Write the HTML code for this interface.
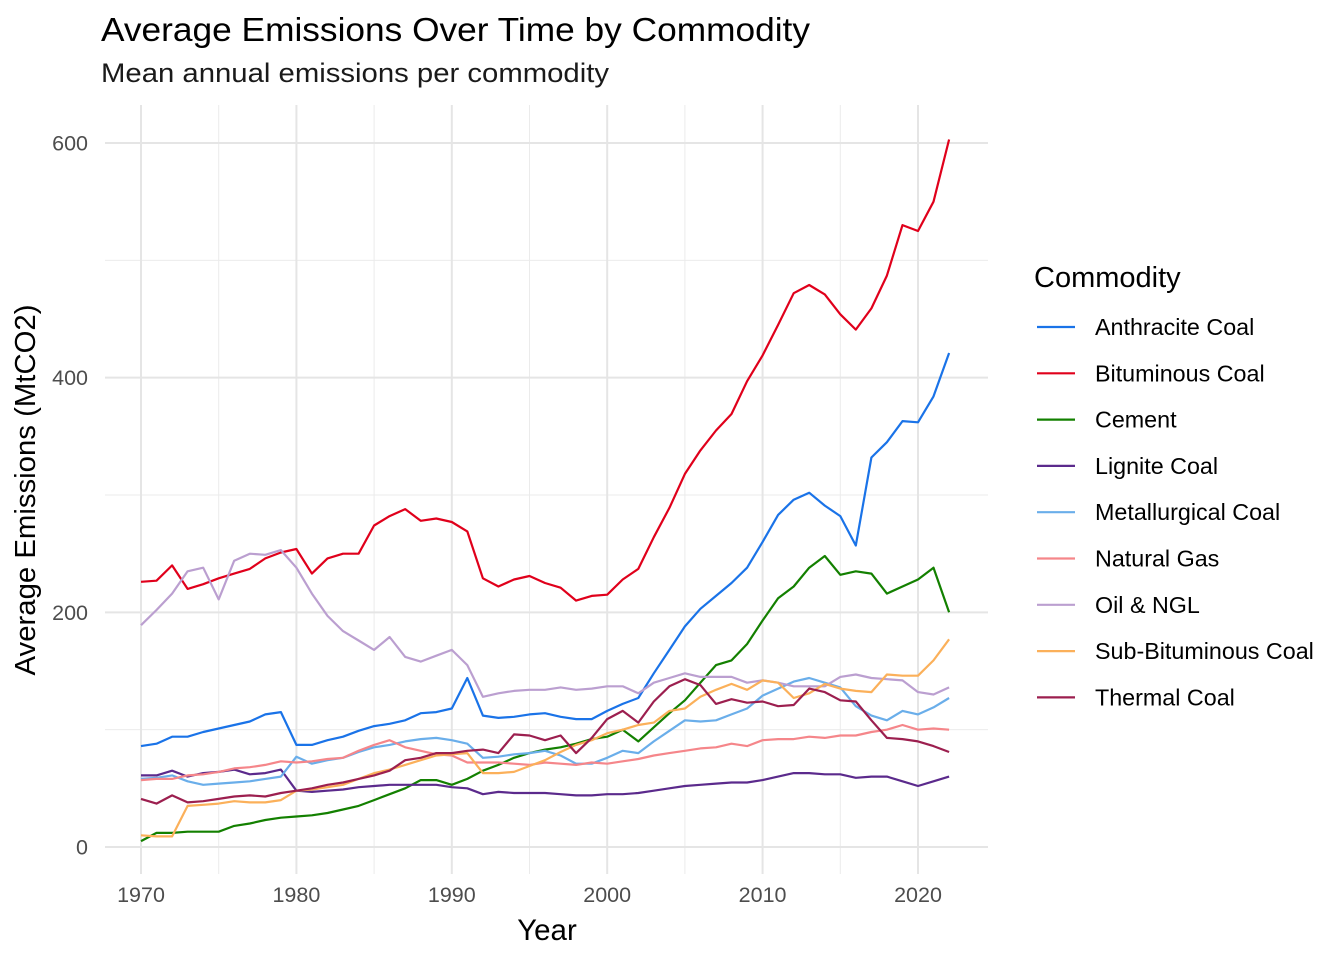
<!DOCTYPE html>
<html><head><meta charset="utf-8"><style>
body{margin:0;background:#fff;font-family:"Liberation Sans",Arial,sans-serif}
</style></head><body>
<svg id="chart" width="1344" height="960" xmlns="http://www.w3.org/2000/svg" font-family="Liberation Sans, Arial, sans-serif">
<text x="101" y="41" font-size="33" fill="#000" textLength="709" lengthAdjust="spacingAndGlyphs">Average Emissions Over Time by Commodity</text>
<text x="101" y="82" font-size="27" fill="#1a1a1a" textLength="508" lengthAdjust="spacingAndGlyphs">Mean annual emissions per commodity</text>
<g id="grid"></g><g id="lines"></g><g id="axes"></g><g id="legend"></g>
<text x="547" y="940" font-size="29.5" text-anchor="middle">Year</text>
<text transform="translate(35,490) rotate(-90)" font-size="29" text-anchor="middle" textLength="371" lengthAdjust="spacingAndGlyphs">Average Emissions (MtCO2)</text>
</svg>
<script>
const years=[];for(let y=1970;y<=2022;y++)years.push(y);
const seriesNames=["Anthracite Coal","Bituminous Coal","Cement","Lignite Coal","Metallurgical Coal","Natural Gas","Oil & NGL","Sub-Bituminous Coal","Thermal Coal"];
const seriesColors=["#1a73e8","#e0001b","#138000","#5b2a8c","#6aaeea","#f5868a","#bb9fd0","#fbb05a","#9c1f4f"];
const anthracite=[86,88,94,94,98,101,104,107,113,115,87,87,91,94,99,103,105,108,114,115,118,144,112,110,111,113,114,111,109,109,116,122,127,148,168,188,203,214,225,238,260,283,296,302,291,282,257,332,345,363,362,384,421];
const bituminous=[226,227,240,220,224,229,233,237,246,251,254,233,246,250,250,274,282,288,278,280,277,269,229,222,228,231,225,221,210,214,215,228,237,264,289,318,338,355,369,397,419,445,472,479,471,454,441,459,487,530,525,550,603];
const cement=[5,12,12,13,13,13,18,20,23,25,26,27,29,32,35,40,45,50,57,57,53,58,65,70,76,80,83,85,88,92,94,100,90,102,114,125,140,155,159,173,193,212,222,238,248,232,235,233,216,222,228,238,200];
const lignite=[61,61,65,60,63,64,66,62,63,66,48,47,48,49,51,52,53,53,53,53,51,50,45,47,46,46,46,45,44,44,45,45,46,48,50,52,53,54,55,55,57,60,63,63,62,62,59,60,60,56,52,56,60];
const metallurgical=[58,59,61,56,53,54,55,56,58,60,77,71,74,76,81,85,87,90,92,93,91,88,76,77,79,80,82,78,71,71,76,82,80,90,99,108,107,108,113,118,129,135,141,144,140,136,120,112,108,116,113,119,127];
const naturalGas=[57,58,58,61,62,64,67,68,70,73,72,73,75,76,82,87,91,85,82,79,78,72,72,72,71,70,72,71,70,72,71,73,75,78,80,82,84,85,88,86,91,92,92,94,93,95,95,98,100,104,100,101,100];
const oilNgl=[189,202,216,235,238,211,244,250,249,253,238,216,197,184,176,168,179,162,158,163,168,155,128,131,133,134,134,136,134,135,137,137,131,140,144,148,145,145,145,140,142,140,137,137,137,145,147,144,143,142,132,130,136];
const subBituminous=[10,9,9,35,36,37,39,38,38,40,48,49,51,53,58,63,66,70,74,78,79,80,63,63,64,69,74,81,87,91,97,100,104,106,116,118,128,134,139,134,142,140,127,131,139,135,133,132,147,146,146,159,177];
const thermal=[41,37,44,38,39,41,43,44,43,46,48,50,53,55,58,61,65,74,76,80,80,82,83,80,96,95,91,95,80,93,109,116,106,124,137,143,138,122,126,123,124,120,121,135,132,125,124,108,93,92,90,86,81];
const xTicks=[1970,1980,1990,2000,2010,2020];
const yTicks=[0,200,400,600];
const allSeries=[anthracite,bituminous,cement,lignite,metallurgical,naturalGas,oilNgl,subBituminous,thermal];
const NS="http://www.w3.org/2000/svg";
const X0=105,X1=988,Y0=874,Y1=105;
const xs=v=>141+(v-1970)*(918-141)/50;
const ys=v=>847-v*(847-143)/600;
function mk(tag,attrs,parent){const e=document.createElementNS(NS,tag);for(const k in attrs)e.setAttribute(k,attrs[k]);parent.appendChild(e);return e;}
const grid=document.getElementById('grid'),lines=document.getElementById('lines'),axes=document.getElementById('axes'),legend=document.getElementById('legend');
for(let v=100;v<=600;v+=200){const l=mk('line',{x1:X0,x2:X1,y1:ys(v),y2:ys(v),stroke:'#ebebeb','stroke-width':1},grid);

}
for(let v=1975;v<=2020;v+=10){const l=mk('line',{x1:xs(v),x2:xs(v),y1:Y0,y2:Y1,stroke:'#ebebeb','stroke-width':1},grid);

}
yTicks.forEach(v=>{const l=mk('line',{x1:X0,x2:X1,y1:ys(v),y2:ys(v),stroke:'#e5e5e5','stroke-width':2},grid);


const t=mk('text',{x:88,y:ys(v)+7.5,'font-size':21.5,fill:'#4d4d4d','text-anchor':'end'},axes);t.textContent=v;

});
xTicks.forEach(v=>{const l=mk('line',{x1:xs(v),x2:xs(v),y1:Y0,y2:Y1,stroke:'#e5e5e5','stroke-width':2},grid);


const t=mk('text',{x:xs(v),y:902,'font-size':21.5,fill:'#4d4d4d','text-anchor':'middle'},axes);t.textContent=v;

});
allSeries.forEach((s,i)=>{const d=s.map((v,j)=>(j?'L':'M')+xs(years[j]).toFixed(1)+','+ys(v).toFixed(1)).join('');
const p=mk('path',{d:d,fill:'none',stroke:seriesColors[i],'stroke-width':2.2,'stroke-linejoin':'round'},lines);

});
const lt=mk('text',{x:1034,y:287,'font-size':29,fill:'#000'},legend);lt.textContent='Commodity';


seriesNames.forEach((n,i)=>{const y=327+i*46.3;
const g=mk('g',{},legend);


mk('line',{x1:1037,x2:1075,y1:y,y2:y,stroke:seriesColors[i],'stroke-width':2.2},g);
const t=mk('text',{x:1095,y:y+8,'font-size':23.3,fill:'#000'},g);t.textContent=n;});
</script>
</body></html>
